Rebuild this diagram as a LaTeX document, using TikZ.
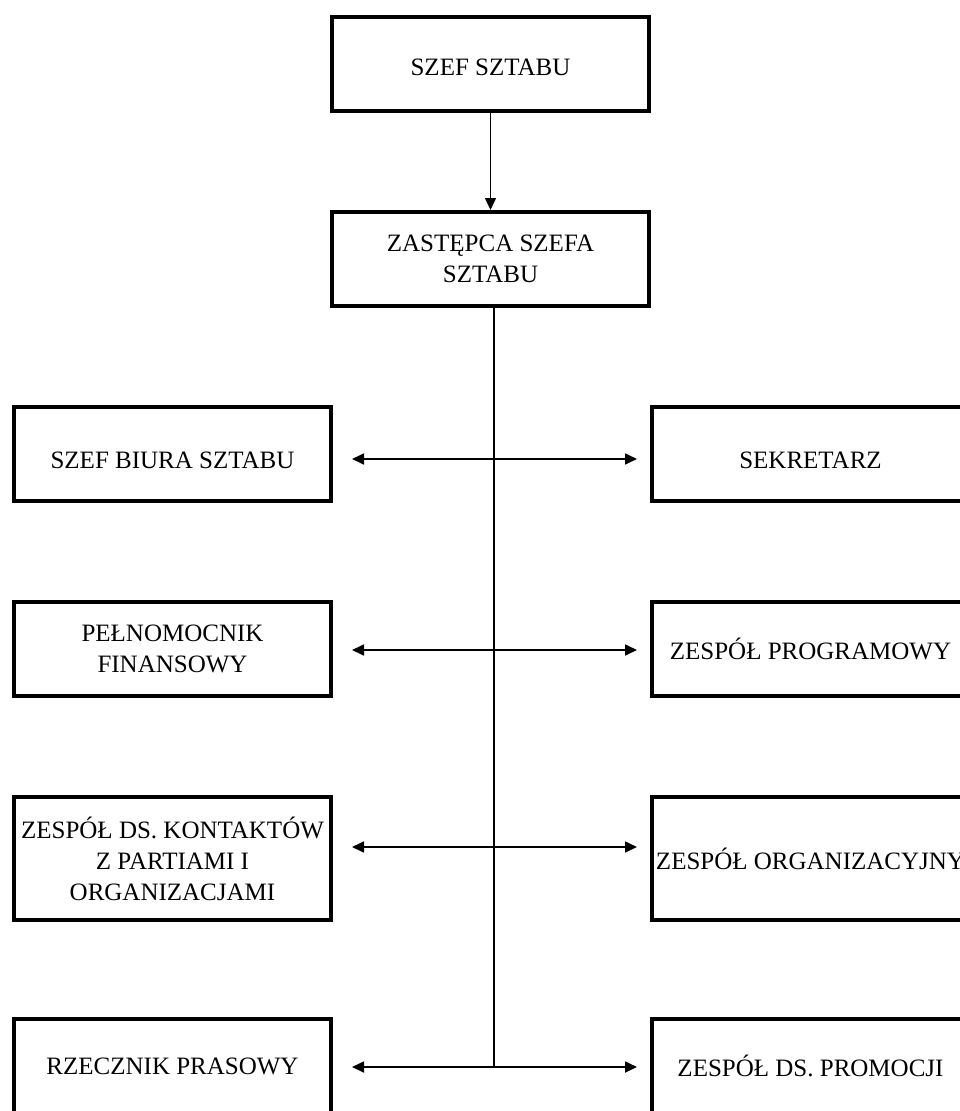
\documentclass[tikz,border=0pt]{standalone}
\usepackage{fontspec}
\setmainfont{Liberation Serif}
\usepackage{tikz}
\usetikzlibrary{positioning,calc,arrows.meta}

\begin{document}
\begin{tikzpicture}[x=1pt, y=-1pt,
  unit/.style={draw=black, line width=4pt, minimum width=317pt, minimum height=94pt, inner sep=2pt, align=center, font=\fontsize{25}{31}\selectfont},
  tallunit/.style={unit, minimum height=123pt},
  lowtext/.style={text height=#1},
  link/.style={line width=1.7pt, {Triangle[length=12pt,width=11pt]}-{Triangle[length=12pt,width=11pt]}},
  down/.style={line width=1.5pt, -{Triangle[length=12pt,width=11pt]}}
]
  \clip (0,0) rectangle (960,1111);

  \node[unit, lowtext=24pt] (szef) at (490.5,64) {SZEF SZTABU};
  \node[unit] (zastepca) at (490.5,259) {ZASTĘPCA SZEFA\\SZTABU};

  \node[unit, lowtext=30pt] (l1) at (172.5,453.5) {SZEF BIURA SZTABU};
  \node[unit] (l2) at (172.5,648.5) {PEŁNOMOCNIK\\FINANSOWY};
  \node[tallunit] (l3) at (172.5,858.5) {ZESPÓŁ DS. KONTAKTÓW\\Z PARTIAMI I\\ORGANIZACJAMI};
  \node[unit] (l4) at (172.5,1066) {RZECZNIK PRASOWY};

  \node[unit, lowtext=30pt] (r1) at (810.5,453.5) {SEKRETARZ};
  \node[unit] (r2) at (810.5,648.5) {ZESPÓŁ PROGRAMOWY};
  \node[tallunit] (r3) at (810.5,858.5) {ZESPÓŁ ORGANIZACYJNY};
  \node[unit] (r4) at (810.5,1066) {ZESPÓŁ DS. PROMOCJI};

  % levels of the horizontal connectors
  \coordinate (a1) at (494,459);
  \coordinate (a2) at (494,650);
  \coordinate (a3) at (494,847);
  \coordinate (a4) at (494,1067);

  \draw[down] (szef) -- (zastepca);
  \draw[line width=1.2pt] (zastepca.south -| a4) -- (a4);

  \foreach \i in {1,2,3,4}{
    \draw[link, shorten <=19pt, shorten >=13pt] (l\i.east |- a\i) -- (r\i.west |- a\i);
  }
\end{tikzpicture}
\end{document}
